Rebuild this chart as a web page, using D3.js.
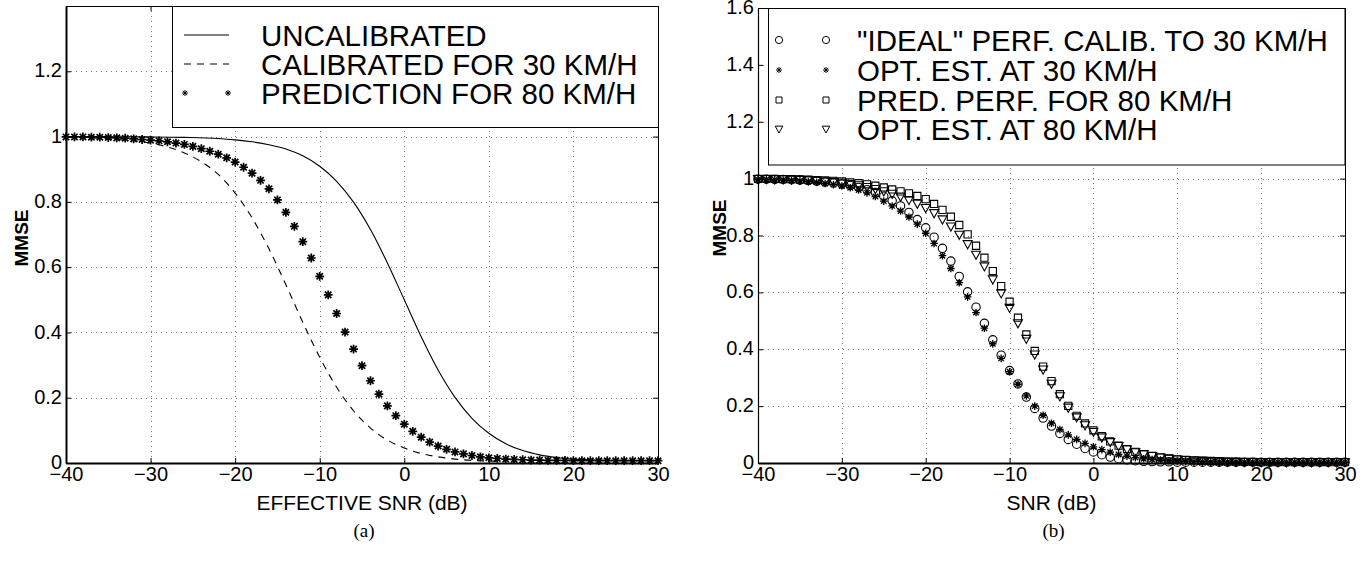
<!DOCTYPE html>
<html>
<head>
<meta charset="utf-8">
<script src="https://cdn.jsdelivr.net/npm/d3@7"></script>
<style>
  body { margin: 0; background: #fff; }
  svg text { font-family: "Liberation Sans", Arial, Helvetica, sans-serif; fill: #000; }
</style>
</head>
<body>
<svg id="fig" width="1364" height="561"></svg>
<script>
// ---- data ----
var xTicks = [-40, -30, -20, -10, 0, 10, 20, 30];
var yTicksA = [0, 0.2, 0.4, 0.6, 0.8, 1, 1.2];
var yTicksB = [0, 0.2, 0.4, 0.6, 0.8, 1, 1.2, 1.4, 1.6];

// SNR grid (dB) for the marker series
var snr = [-40,-39,-38,-37,-36,-35,-34,-33,-32,-31,-30,-29,-28,-27,-26,-25,-24,-23,-22,-21,
           -20,-19,-18,-17,-16,-15,-14,-13,-12,-11,-10,-9,-8,-7,-6,-5,-4,-3,-2,-1,
           0,1,2,3,4,5,6,7,8,9,10,11,12,13,14,15,16,17,18,19,20,21,22,23,24,25,26,27,28,29,30];

// (a) uncalibrated, solid line
var uncalX = [-40,-35,-30,-26,-22,-20,-18,-16,-14,-12,-10,-8,-6,-4,-2,0,2,4,6,8,10,12,14,16,18,20,22,25,30];
var uncalY = [1.0,0.9997,0.999,0.9975,0.994,0.99,0.984,0.975,0.962,0.941,0.909,0.863,0.799,0.715,0.613,0.50,
              0.387,0.285,0.201,0.137,0.091,0.059,0.038,0.025,0.017,0.012,0.010,0.008,0.007];

// (a) calibrated for 30 km/h, dashed line
var calX = [-40,-35,-30,-28,-26,-24,-22,-20,-18,-16,-14,-12,-10,-8,-6,-4,-2,0,2,4,6,8,10,12];
var calY = [0.998,0.993,0.98,0.968,0.95,0.923,0.884,0.827,0.751,0.656,0.546,0.431,0.324,0.232,0.16,0.107,
            0.07,0.046,0.029,0.019,0.012,0.008,0.006,0.005];

// (a) prediction for 80 km/h, asterisks
var predA = [0.999,0.999,0.999,0.998,0.998,0.997,0.996,0.995,0.993,0.991,0.989,0.987,0.984,0.980,0.976,0.970,0.963,0.955,0.946,0.935,
             0.922,0.906,0.888,0.866,0.840,0.806,0.768,0.725,0.678,0.628,0.572,0.515,0.458,0.401,0.349,0.298,0.252,0.211,0.175,0.145,
             0.119,0.097,0.079,0.064,0.052,0.042,0.034,0.028,0.023,0.019,0.016,0.014,0.012,0.011,0.010,0.009,0.009,0.008,0.008,0.008,
             0.007,0.007,0.007,0.007,0.007,0.007,0.007,0.007,0.007,0.007,0.007];

// (b) "ideal" perf. calib. to 30 km/h, circles
var ideal30 = [0.998,0.998,0.997,0.997,0.996,0.995,0.993,0.991,0.988,0.985,0.981,0.976,0.969,0.961,0.951,0.938,0.922,0.904,0.881,0.856,
               0.827,0.794,0.755,0.710,0.656,0.602,0.548,0.491,0.433,0.379,0.325,0.278,0.232,0.192,0.158,0.130,0.104,0.083,0.066,0.051,
               0.039,0.029,0.021,0.015,0.011,0.008,0.006,0.005,0.004,0.004,0.003,0.003,0.003,0.003,0.003,0.003,0.003,0.003,0.003,0.003,
               0.003,0.003,0.003,0.003,0.003,0.003,0.003,0.003,0.003,0.003,0.003];

// (b) opt. est. at 30 km/h, asterisks
var opt30 = [0.997,0.997,0.996,0.995,0.994,0.992,0.990,0.987,0.983,0.979,0.974,0.968,0.960,0.950,0.937,0.921,0.904,0.886,0.865,0.840,
             0.808,0.772,0.729,0.684,0.634,0.584,0.529,0.474,0.419,0.368,0.321,0.277,0.236,0.200,0.168,0.140,0.118,0.099,0.083,0.069,
             0.057,0.047,0.038,0.030,0.024,0.019,0.015,0.012,0.010,0.008,0.007,0.006,0.005,0.005,0.004,0.004,0.004,0.004,0.003,0.003,
             0.003,0.003,0.003,0.003,0.003,0.003,0.003,0.003,0.003,0.003,0.003];

// (b) pred. perf. for 80 km/h, squares
var pred80 = [0.999,0.999,0.999,0.998,0.998,0.997,0.996,0.995,0.994,0.992,0.990,0.987,0.984,0.980,0.975,0.969,0.962,0.955,0.948,0.939,
              0.928,0.911,0.890,0.866,0.837,0.804,0.764,0.722,0.675,0.622,0.567,0.511,0.452,0.394,0.339,0.288,0.242,0.201,0.166,0.139,
              0.115,0.094,0.076,0.061,0.049,0.039,0.031,0.025,0.020,0.016,0.013,0.011,0.009,0.008,0.007,0.006,0.005,0.005,0.004,0.004,
              0.003,0.003,0.003,0.003,0.003,0.003,0.003,0.003,0.003,0.003,0.003];

// (b) opt. est. at 80 km/h, down triangles
var opt80 = [0.999,0.999,0.998,0.998,0.997,0.996,0.995,0.993,0.991,0.989,0.986,0.982,0.977,0.971,0.964,0.956,0.947,0.937,0.925,0.912,
             0.897,0.879,0.857,0.832,0.803,0.770,0.733,0.692,0.646,0.597,0.546,0.492,0.437,0.382,0.329,0.279,0.235,0.195,0.161,0.133,
             0.110,0.090,0.074,0.060,0.048,0.038,0.031,0.025,0.020,0.016,0.013,0.011,0.009,0.008,0.007,0.006,0.005,0.005,0.004,0.004,
             0.003,0.003,0.003,0.003,0.003,0.003,0.003,0.003,0.003,0.003,0.003];

var legendA = ["UNCALIBRATED", "CALIBRATED FOR 30 KM/H", "PREDICTION FOR 80 KM/H"];
var legendB = ["\"IDEAL\" PERF. CALIB. TO 30 KM/H", "OPT. EST. AT 30 KM/H", "PRED. PERF. FOR 80 KM/H", "OPT. EST. AT 80 KM/H"];

// ---- layout ----
var svg = d3.select("#fig");
var fmt = d3.format("~g");

var panelA = {left: 66, right: 658, top: 6, bottom: 463, yMax: 1.4, yTicks: yTicksA, leftW: 2,
              xLabel: "EFFECTIVE SNR (dB)", yLabelX: 21, yLabelY: 238, caption: "(a)"};
var panelB = {left: 758, right: 1345, top: 8, bottom: 463, yMax: 1.6, yTicks: yTicksB, leftW: 1.2,
              xLabel: "SNR (dB)", yLabelX: 719, yLabelY: 228, caption: "(b)"};

// marker shapes, centred on 0,0
function asteriskPath(s) {
  var a = s * 0.72;
  return "M" + (-s) + ",0H" + s + "M0," + (-s) + "V" + s +
         "M" + (-a) + "," + (-a) + "L" + a + "," + a + "M" + (-a) + "," + a + "L" + a + "," + (-a);
}
function squarePath(s) { return "M" + (-s) + "," + (-s) + "H" + s + "V" + s + "H" + (-s) + "Z"; }
function trianglePath(s) { return "M" + (-s) + "," + (-s * 0.75) + "H" + s + "L0," + (s * 1.05) + "Z"; }
function circlePath(r) { return "M" + r + ",0A" + r + "," + r + " 0 1,1 " + (-r) + ",0A" + r + "," + r + " 0 1,1 " + r + ",0"; }

function setupPanel(p) {
  var x = d3.scaleLinear().domain([-40, 30]).range([p.left, p.right]);
  var y = d3.scaleLinear().domain([0, p.yMax]).range([p.bottom, p.top]);
  var g = svg.append("g");

  // dotted grid
  g.selectAll(".gx").data(xTicks.slice(1, -1)).enter().append("line")
    .attr("x1", function(d) { return Math.round(x(d)) + 0.5; })
    .attr("x2", function(d) { return Math.round(x(d)) + 0.5; })
    .attr("y1", p.top).attr("y2", p.bottom)
    .attr("stroke", "#777").attr("stroke-dasharray", "1,4");
  g.selectAll(".gy").data(p.yTicks.filter(function(d) { return d > 0 && d < p.yMax; })).enter().append("line")
    .attr("y1", function(d) { return Math.round(y(d)) + 0.5; })
    .attr("y2", function(d) { return Math.round(y(d)) + 0.5; })
    .attr("x1", p.left).attr("x2", p.right)
    .attr("stroke", "#777").attr("stroke-dasharray", "1,4");

  // thin top and right box edges with inward ticks
  g.append("g").attr("transform", "translate(0," + p.top + ")")
    .call(d3.axisTop(x).tickValues(xTicks).tickSize(-5).tickSizeOuter(0).tickFormat(""))
    .call(function(a) { a.selectAll("path,line").attr("stroke", "#000").attr("stroke-width", 1); });
  g.append("g").attr("transform", "translate(" + p.right + ",0)")
    .call(d3.axisRight(y).tickValues(p.yTicks).tickSize(-5).tickSizeOuter(0).tickFormat(""))
    .call(function(a) { a.selectAll("path,line").attr("stroke", "#000").attr("stroke-width", 1); });

  // bottom and left axes
  var xa = g.append("g").attr("transform", "translate(0," + p.bottom + ")")
    .call(d3.axisBottom(x).tickValues(xTicks).tickSize(-5).tickSizeOuter(0).tickPadding(4).tickFormat(fmt));
  xa.select(".domain").attr("stroke-width", 2);
  xa.selectAll("text").attr("font-size", 20).attr("font-family", "Liberation Sans, Arial, sans-serif");

  var ya = g.append("g").attr("transform", "translate(" + p.left + ",0)")
    .call(d3.axisLeft(y).tickValues(p.yTicks).tickSize(-5).tickSizeOuter(0).tickPadding(4).tickFormat(fmt));
  ya.select(".domain").attr("stroke-width", p.leftW);
  ya.selectAll("text").attr("font-size", 20).attr("dy", "0.28em")
    .attr("font-family", "Liberation Sans, Arial, sans-serif");

  // axis titles
  g.append("text").attr("x", (p.left + p.right) / 2).attr("y", 510)
    .attr("text-anchor", "middle").attr("font-size", 21).text(p.xLabel);
  g.append("text").attr("transform", "translate(" + p.yLabelX + "," + p.yLabelY + ") rotate(-90)")
    .attr("text-anchor", "middle").attr("dy", "0.36em").attr("font-size", 19).attr("font-weight", "bold")
    .text("MMSE");
  g.append("text").attr("x", (p.left + p.right) / 2 + 2).attr("y", 537)
    .attr("text-anchor", "middle").attr("font-size", 19)
    .style("font-family", "'Liberation Serif', 'Times New Roman', serif").text(p.caption);

  return {g: g, x: x, y: y};
}

// ---- panel (a) ----
var A = setupPanel(panelA);

var lineA = d3.line().curve(d3.curveMonotoneX)
  .x(function(d) { return A.x(d[0]); })
  .y(function(d) { return A.y(d[1]); });

A.g.append("path").datum(d3.zip(uncalX, uncalY)).attr("d", lineA)
  .attr("fill", "none").attr("stroke", "#000").attr("stroke-width", 1.1);
A.g.append("path").datum(d3.zip(calX, calY)).attr("d", lineA)
  .attr("fill", "none").attr("stroke", "#000").attr("stroke-width", 1.1).attr("stroke-dasharray", "7,6");

A.g.selectAll(".predA").data(d3.zip(snr, predA)).enter().append("path")
  .attr("transform", function(d) { return "translate(" + A.x(d[0]) + "," + A.y(d[1]) + ")"; })
  .attr("d", asteriskPath(4.4)).attr("fill", "none").attr("stroke", "#000").attr("stroke-width", 1.7);

// legend (a)
var legA = A.g.append("g");
legA.append("rect").attr("x", 172.5).attr("y", 6.5).attr("width", 486).attr("height", 121)
  .attr("fill", "#fff").attr("stroke", "#000");
var rowA = [35, 64, 93];
legA.append("line").attr("x1", 184).attr("x2", 229).attr("y1", rowA[0]).attr("y2", rowA[0]).attr("stroke", "#000");
legA.append("line").attr("x1", 184).attr("x2", 229).attr("y1", rowA[1]).attr("y2", rowA[1])
  .attr("stroke", "#000").attr("stroke-dasharray", "7,6");
[185, 228].forEach(function(cx) {
  legA.append("path").attr("transform", "translate(" + cx + "," + rowA[2] + ")")
    .attr("d", asteriskPath(3)).attr("fill", "none").attr("stroke", "#000").attr("stroke-width", 1);
});
legA.selectAll(".lt").data(legendA).enter().append("text")
  .attr("x", 261).attr("y", function(d, i) { return rowA[i]; }).attr("dy", "0.36em")
  .attr("font-size", 29.5).text(function(d) { return d; });

// ---- panel (b) ----
var B = setupPanel(panelB);

function drawMarkers(values, pathStr, sw) {
  B.g.append("g").selectAll("path").data(d3.zip(snr, values)).enter().append("path")
    .attr("transform", function(d) { return "translate(" + B.x(d[0]) + "," + B.y(d[1]) + ")"; })
    .attr("d", pathStr).attr("fill", "none").attr("stroke", "#000").attr("stroke-width", sw);
}
drawMarkers(ideal30, circlePath(4.2), 1.1);
drawMarkers(opt30, asteriskPath(3.8), 1.3);
drawMarkers(pred80, squarePath(3.6), 1.1);
drawMarkers(opt80, trianglePath(4.5), 1.1);

// legend (b)
var legB = B.g.append("g");
legB.append("rect").attr("x", 768.5).attr("y", 8.5).attr("width", 576.5).attr("height", 156.5)
  .attr("fill", "#fff").attr("stroke", "#000");
var rowB = [40, 70, 100, 129];
var legShapes = [[circlePath(3.6), 1], [asteriskPath(3), 1], [squarePath(3), 1], [trianglePath(3.8), 1]];
legShapes.forEach(function(s, i) {
  [779, 826].forEach(function(cx) {
    legB.append("path").attr("transform", "translate(" + cx + "," + rowB[i] + ")")
      .attr("d", s[0]).attr("fill", "none").attr("stroke", "#000").attr("stroke-width", s[1]);
  });
});
legB.selectAll(".lt").data(legendB).enter().append("text")
  .attr("x", 857).attr("y", function(d, i) { return rowB[i]; }).attr("dy", "0.36em")
  .attr("font-size", 29.5).text(function(d) { return d; });
</script>
</body>
</html>
